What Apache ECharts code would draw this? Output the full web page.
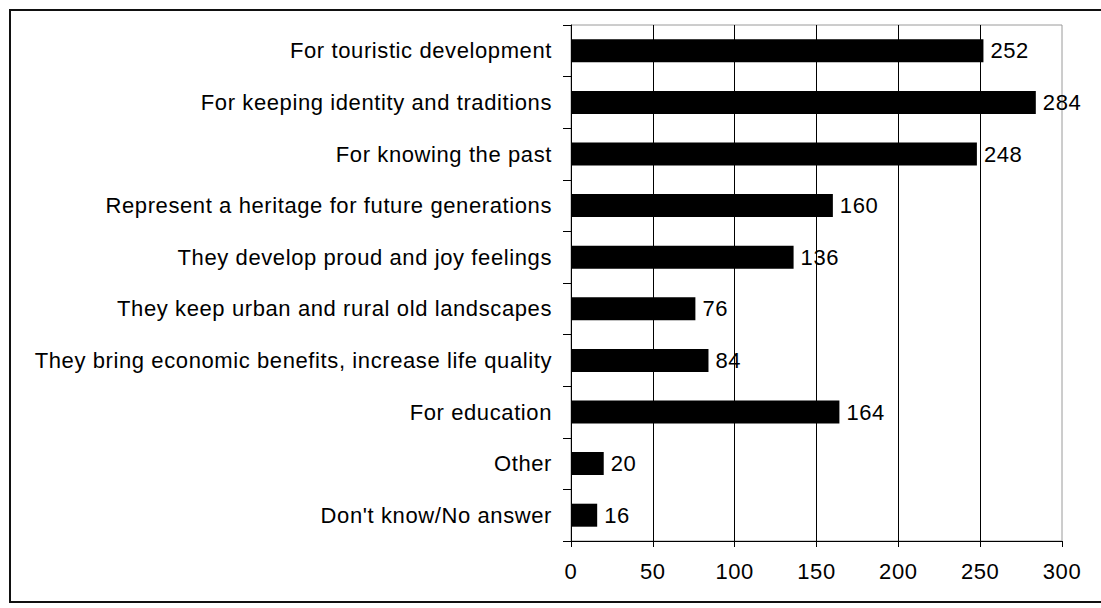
<!DOCTYPE html>
<html>
<head>
<meta charset="utf-8">
<script src="https://cdn.jsdelivr.net/npm/echarts@6/dist/echarts.min.js"></script>
<style>
html,body{margin:0;padding:0;background:#fff;}
#chart{width:1101px;height:608px;}
#chart text{letter-spacing:0.6px;}
</style>
</head>
<body>
<div id="chart"></div>
<script>
const categories = [
  "For touristic development",
  "For keeping identity and traditions",
  "For knowing the past",
  "Represent a heritage for future generations",
  "They develop proud and joy feelings",
  "They keep urban and rural old landscapes",
  "They bring economic benefits, increase life quality",
  "For education",
  "Other",
  "Don't know/No answer"
];
const values = [252, 284, 248, 160, 136, 76, 84, 164, 20, 16];
const xTicks = [0, 50, 100, 150, 200, 250, 300];

const FONT = "'Liberation Sans', Arial, sans-serif";
const chart = echarts.init(document.getElementById('chart'), null, {renderer: 'svg'});
chart.setOption({
  animation: false,
  backgroundColor: '#fff',
  textStyle: {fontFamily: FONT},
  graphic: [{
    type: 'rect',
    shape: {x: 10, y: 10, width: 1120, height: 592},
    style: {fill: 'none', stroke: '#111', lineWidth: 2},
    silent: true
  }],
  grid: {
    left: 571, top: 25, right: 39, bottom: 67,
    show: true, borderColor: '#9a9a9a', borderWidth: 1, backgroundColor: 'transparent'
  },
  xAxis: {
    type: 'value',
    min: xTicks[0], max: xTicks[xTicks.length - 1], interval: 50,
    axisLine: {show: true, lineStyle: {color: '#000', width: 1}},
    axisTick: {show: true, length: 6, lineStyle: {color: '#000'}},
    axisLabel: {color: '#000', fontSize: 22, fontFamily: FONT, margin: 19},
    splitLine: {show: true, showMinLine: false, showMaxLine: false, lineStyle: {color: '#000', width: 1}}
  },
  yAxis: {
    type: 'category',
    data: categories,
    inverse: true,
    axisLine: {show: true, lineStyle: {color: '#000', width: 1}},
    axisTick: {show: true, length: 8, lineStyle: {color: '#000'}},
    axisLabel: {color: '#000', fontSize: 22, fontFamily: FONT, margin: 19, interval: 0}
  },
  series: [{
    type: 'bar',
    data: values,
    barWidth: 23,
    itemStyle: {color: '#000'},
    label: {show: true, position: 'right', distance: 7, color: '#000', fontSize: 22, fontFamily: FONT}
  }]
});
</script>
</body>
</html>
